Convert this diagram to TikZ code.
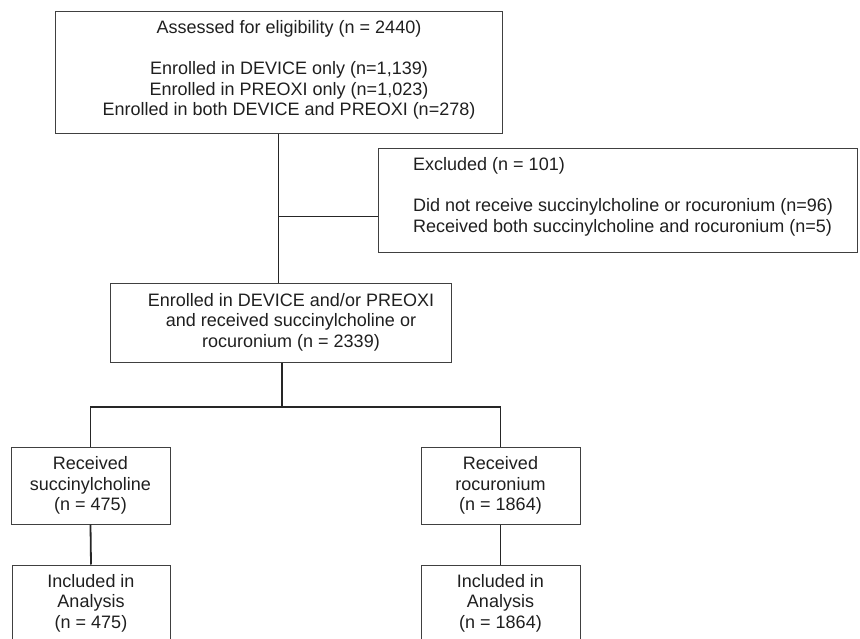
\documentclass[tikz,border=0pt]{standalone}
\usepackage{fontspec}
\setmainfont{Liberation Sans}
\usetikzlibrary{calc,positioning}

\begin{document}
\begin{tikzpicture}[x=1pt,y=-1pt]
\tikzset{
    box/.style={
       draw=black!75,
       line width=1pt,
       inner sep=0pt
    },
    boxtext/.style={
       font=\fontsize{18}{20.5}\selectfont,
       text=black!88,
       align=center,
       inner sep=0pt
    },
    link/.style={
       draw=black!85,
       line width=1pt
    },
    thick link/.style={
       draw=black!85,
       line width=1.8pt
    }
}
%
\useasboundingbox (0,0) rectangle (860,639);

% top: eligibility
\node[box, minimum width=447pt, minimum height=122pt] (assess) at (278.5,73) {};
\node[boxtext] (assesstxt) at (289,70) {Assessed for eligibility (n = 2440)\\[20.5pt]
  Enrolled in DEVICE only (n=1,139)\\
  Enrolled in PREOXI only (n=1,023)\\
  Enrolled in both DEVICE and PREOXI (n=278)};

% exclusions
\node[box, minimum width=479pt, minimum height=104pt] (excl) at (617.5,201) {};
\node[boxtext, align=left, anchor=west] (excltxt) at (413,197) {Excluded (n = 101)\\[20.5pt]
  Did not receive succinylcholine or rocuronium (n=96)\\
  Received both succinylcholine and rocuronium (n=5)};

% enrolled and received drug
\node[box, minimum width=341pt, minimum height=78pt] (enrol) at (280.5,323) {};
\node[boxtext] (enroltxt) at (291,322) {Enrolled in DEVICE and/or PREOXI\\
  and received succinylcholine or\\
  rocuronium (n = 2339)};

% two arms
\node[box, boxtext, minimum width=159pt, minimum height=77pt] (succ) at (90.5,485.5)
  {Received\\ succinylcholine\\ (n = 475)};
\node[box, boxtext, minimum width=159pt, minimum height=77pt] (rocu) at (500.5,485.5)
  {Received\\ rocuronium\\ (n = 1864)};

% analysis (cut at the bottom edge)
\node[box, minimum width=158pt, minimum height=78pt] (incS) at (91,604) {};
\node[boxtext] (incStxt) at (91,603) {Included in\\ Analysis\\ (n = 475)};
\node[box, minimum width=159pt, minimum height=78pt] (incR) at (500.5,604) {};
\node[boxtext] (incRtxt) at (500.5,603) {Included in\\ Analysis\\ (n = 1864)};

% connectors
\coordinate (split1) at (278.5,217);
\coordinate (split2) at (282,407);
\draw[link] (assess.south) -- (assess.south |- enrol.north);
\draw[link] (split1) -- (split1 -| excl.west);
\draw[thick link] (split2 |- enrol.south) -- (split2);
\draw[thick link] (split2) -| (succ.north);
\draw[thick link] (split2) -| (rocu.north);
\draw[thick link] (succ.south) -- (incS.north);
\draw[thick link] (rocu.south) -- (incR.north);
\end{tikzpicture}
\end{document}
